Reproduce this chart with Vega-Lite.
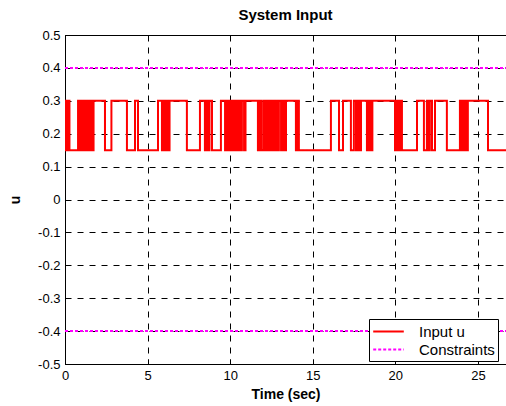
{
  "$schema": "https://vega.github.io/schema/vega-lite/v6.json",
  "width": 441,
  "height": 329,
  "autosize": {"type": "none"},
  "padding": {"left": 65, "top": 35, "right": 0, "bottom": 42},
  "background": "white",
  "config": {
    "view": {"stroke": "black", "strokeWidth": 1},
    "font": "Liberation Sans"
  },
  "title": {"text": "System Input", "fontSize": 15, "fontWeight": "bold", "font": "Liberation Sans", "color": "black", "offset": 6, "anchor": "middle"},
  "data": {"values": [
    {"t": 0, "u": 0.3, "s": "Input u", "g": "u"},
    {"t": 0.06, "u": 0.15, "s": "Input u", "g": "u"},
    {"t": 0.18, "u": 0.3, "s": "Input u", "g": "u"},
    {"t": 0.27, "u": 0.15, "s": "Input u", "g": "u"},
    {"t": 0.79, "u": 0.3, "s": "Input u", "g": "u"},
    {"t": 0.91, "u": 0.15, "s": "Input u", "g": "u"},
    {"t": 1.03, "u": 0.3, "s": "Input u", "g": "u"},
    {"t": 1.12, "u": 0.15, "s": "Input u", "g": "u"},
    {"t": 1.21, "u": 0.3, "s": "Input u", "g": "u"},
    {"t": 1.30, "u": 0.15, "s": "Input u", "g": "u"},
    {"t": 1.39, "u": 0.3, "s": "Input u", "g": "u"},
    {"t": 1.45, "u": 0.15, "s": "Input u", "g": "u"},
    {"t": 1.54, "u": 0.3, "s": "Input u", "g": "u"},
    {"t": 1.63, "u": 0.15, "s": "Input u", "g": "u"},
    {"t": 1.73, "u": 0.3, "s": "Input u", "g": "u"},
    {"t": 2.42, "u": 0.15, "s": "Input u", "g": "u"},
    {"t": 2.81, "u": 0.3, "s": "Input u", "g": "u"},
    {"t": 3.75, "u": 0.15, "s": "Input u", "g": "u"},
    {"t": 4.24, "u": 0.3, "s": "Input u", "g": "u"},
    {"t": 4.42, "u": 0.15, "s": "Input u", "g": "u"},
    {"t": 5.63, "u": 0.3, "s": "Input u", "g": "u"},
    {"t": 5.87, "u": 0.15, "s": "Input u", "g": "u"},
    {"t": 5.96, "u": 0.3, "s": "Input u", "g": "u"},
    {"t": 6.05, "u": 0.15, "s": "Input u", "g": "u"},
    {"t": 6.14, "u": 0.3, "s": "Input u", "g": "u"},
    {"t": 6.23, "u": 0.15, "s": "Input u", "g": "u"},
    {"t": 6.33, "u": 0.3, "s": "Input u", "g": "u"},
    {"t": 7.38, "u": 0.15, "s": "Input u", "g": "u"},
    {"t": 8.17, "u": 0.3, "s": "Input u", "g": "u"},
    {"t": 8.47, "u": 0.15, "s": "Input u", "g": "u"},
    {"t": 8.57, "u": 0.3, "s": "Input u", "g": "u"},
    {"t": 8.66, "u": 0.15, "s": "Input u", "g": "u"},
    {"t": 8.75, "u": 0.3, "s": "Input u", "g": "u"},
    {"t": 8.90, "u": 0.15, "s": "Input u", "g": "u"},
    {"t": 9.44, "u": 0.3, "s": "Input u", "g": "u"},
    {"t": 9.69, "u": 0.15, "s": "Input u", "g": "u"},
    {"t": 9.81, "u": 0.3, "s": "Input u", "g": "u"},
    {"t": 9.93, "u": 0.15, "s": "Input u", "g": "u"},
    {"t": 10.05, "u": 0.3, "s": "Input u", "g": "u"},
    {"t": 10.17, "u": 0.15, "s": "Input u", "g": "u"},
    {"t": 10.29, "u": 0.3, "s": "Input u", "g": "u"},
    {"t": 10.41, "u": 0.15, "s": "Input u", "g": "u"},
    {"t": 10.50, "u": 0.3, "s": "Input u", "g": "u"},
    {"t": 10.59, "u": 0.15, "s": "Input u", "g": "u"},
    {"t": 10.71, "u": 0.3, "s": "Input u", "g": "u"},
    {"t": 10.84, "u": 0.15, "s": "Input u", "g": "u"},
    {"t": 10.93, "u": 0.3, "s": "Input u", "g": "u"},
    {"t": 11.68, "u": 0.15, "s": "Input u", "g": "u"},
    {"t": 11.80, "u": 0.3, "s": "Input u", "g": "u"},
    {"t": 11.92, "u": 0.15, "s": "Input u", "g": "u"},
    {"t": 12.05, "u": 0.3, "s": "Input u", "g": "u"},
    {"t": 12.17, "u": 0.15, "s": "Input u", "g": "u"},
    {"t": 12.29, "u": 0.3, "s": "Input u", "g": "u"},
    {"t": 12.41, "u": 0.15, "s": "Input u", "g": "u"},
    {"t": 12.53, "u": 0.3, "s": "Input u", "g": "u"},
    {"t": 12.65, "u": 0.15, "s": "Input u", "g": "u"},
    {"t": 12.74, "u": 0.3, "s": "Input u", "g": "u"},
    {"t": 12.83, "u": 0.15, "s": "Input u", "g": "u"},
    {"t": 12.95, "u": 0.3, "s": "Input u", "g": "u"},
    {"t": 13.08, "u": 0.15, "s": "Input u", "g": "u"},
    {"t": 13.17, "u": 0.3, "s": "Input u", "g": "u"},
    {"t": 13.26, "u": 0.15, "s": "Input u", "g": "u"},
    {"t": 13.38, "u": 0.3, "s": "Input u", "g": "u"},
    {"t": 13.98, "u": 0.15, "s": "Input u", "g": "u"},
    {"t": 14.07, "u": 0.3, "s": "Input u", "g": "u"},
    {"t": 14.16, "u": 0.15, "s": "Input u", "g": "u"},
    {"t": 16.10, "u": 0.3, "s": "Input u", "g": "u"},
    {"t": 16.59, "u": 0.15, "s": "Input u", "g": "u"},
    {"t": 16.83, "u": 0.3, "s": "Input u", "g": "u"},
    {"t": 17.31, "u": 0.15, "s": "Input u", "g": "u"},
    {"t": 17.49, "u": 0.3, "s": "Input u", "g": "u"},
    {"t": 17.62, "u": 0.15, "s": "Input u", "g": "u"},
    {"t": 17.71, "u": 0.3, "s": "Input u", "g": "u"},
    {"t": 17.80, "u": 0.15, "s": "Input u", "g": "u"},
    {"t": 17.92, "u": 0.3, "s": "Input u", "g": "u"},
    {"t": 18.28, "u": 0.15, "s": "Input u", "g": "u"},
    {"t": 18.40, "u": 0.3, "s": "Input u", "g": "u"},
    {"t": 18.52, "u": 0.15, "s": "Input u", "g": "u"},
    {"t": 18.61, "u": 0.3, "s": "Input u", "g": "u"},
    {"t": 19.98, "u": 0.15, "s": "Input u", "g": "u"},
    {"t": 20.10, "u": 0.3, "s": "Input u", "g": "u"},
    {"t": 20.22, "u": 0.15, "s": "Input u", "g": "u"},
    {"t": 20.31, "u": 0.3, "s": "Input u", "g": "u"},
    {"t": 20.40, "u": 0.15, "s": "Input u", "g": "u"},
    {"t": 21.31, "u": 0.3, "s": "Input u", "g": "u"},
    {"t": 21.73, "u": 0.15, "s": "Input u", "g": "u"},
    {"t": 21.91, "u": 0.3, "s": "Input u", "g": "u"},
    {"t": 22.00, "u": 0.15, "s": "Input u", "g": "u"},
    {"t": 22.09, "u": 0.3, "s": "Input u", "g": "u"},
    {"t": 22.22, "u": 0.15, "s": "Input u", "g": "u"},
    {"t": 22.40, "u": 0.3, "s": "Input u", "g": "u"},
    {"t": 23.12, "u": 0.15, "s": "Input u", "g": "u"},
    {"t": 23.91, "u": 0.3, "s": "Input u", "g": "u"},
    {"t": 24.03, "u": 0.15, "s": "Input u", "g": "u"},
    {"t": 24.15, "u": 0.3, "s": "Input u", "g": "u"},
    {"t": 24.27, "u": 0.15, "s": "Input u", "g": "u"},
    {"t": 24.39, "u": 0.3, "s": "Input u", "g": "u"},
    {"t": 25.61, "u": 0.15, "s": "Input u", "g": "u"},
    {"t": 26.7, "u": 0.15, "s": "Input u", "g": "u"},
    {"t": 0, "u": 0.4, "s": "Constraints", "g": "c1"},
    {"t": 26.7, "u": 0.4, "s": "Constraints", "g": "c1"},
    {"t": 0, "u": -0.4, "s": "Constraints", "g": "c2"},
    {"t": 26.7, "u": -0.4, "s": "Constraints", "g": "c2"}
  ]},
  "mark": {"type": "line", "interpolate": "step-after", "strokeWidth": 2, "clip": true},
  "encoding": {
    "x": {
      "field": "t", "type": "quantitative",
      "scale": {"domain": [0, 26.7], "nice": false, "zero": false},
      "axis": {
        "values": [0, 5, 10, 15, 20, 25],
        "title": "Time (sec)",
        "grid": true, "gridColor": "black", "gridDash": [6, 6], "gridOpacity": 1, "gridWidth": 1,
        "domainColor": "black", "tickColor": "black", "tickSize": -5,
        "labelFontSize": 13, "labelColor": "black", "labelFont": "Liberation Sans", "labelPadding": 10, "labelFlush": false,
        "titleFontSize": 14, "titleFontWeight": "bold", "titleColor": "black", "titleFont": "Liberation Sans", "titlePadding": 5
      }
    },
    "y": {
      "field": "u", "type": "quantitative",
      "scale": {"domain": [-0.5, 0.5], "nice": false, "zero": false},
      "axis": {
        "values": [-0.5, -0.4, -0.3, -0.2, -0.1, 0, 0.1, 0.2, 0.3, 0.4, 0.5],
        "labelExpr": "toString(round(datum.value * 10) / 10)",
        "title": "u",
        "grid": true, "gridColor": "black", "gridDash": [6, 6], "gridOpacity": 1, "gridWidth": 1,
        "domainColor": "black", "tickColor": "black", "tickSize": -5,
        "labelFontSize": 13, "labelColor": "black", "labelFont": "Liberation Sans", "labelPadding": 10, "labelFlush": false,
        "titleFontSize": 14, "titleFontWeight": "bold", "titleColor": "black", "titleFont": "Liberation Sans", "titlePadding": 15
      }
    },
    "color": {
      "field": "s", "type": "nominal",
      "scale": {"domain": ["Input u", "Constraints"], "range": ["#ff0000", "#ff00ff"]},
      "legend": {
        "title": null, "orient": "none", "legendX": 304, "legendY": 284,
        "fillColor": "white", "strokeColor": "black", "padding": 3,
        "symbolType": "M-1.8,0H1.8", "symbolSize": 289, "symbolStrokeWidth": 2, "symbolOffset": 7,
        "labelFontSize": 15, "labelColor": "black", "labelFont": "Liberation Sans", "labelOffset": 21,
        "rowPadding": 0
      }
    },
    "strokeDash": {
      "field": "s", "type": "nominal",
      "scale": {"domain": ["Input u", "Constraints"], "range": [[1, 0], [3, 2]]},
      "legend": {
        "title": null, "orient": "none", "legendX": 304, "legendY": 284,
        "fillColor": "white", "strokeColor": "black", "padding": 3,
        "symbolType": "M-1.8,0H1.8", "symbolSize": 289, "symbolStrokeWidth": 2, "symbolOffset": 7,
        "labelFontSize": 15, "labelColor": "black", "labelFont": "Liberation Sans", "labelOffset": 21,
        "rowPadding": 0
      }
    },
    "detail": {"field": "g"}
  }
}
